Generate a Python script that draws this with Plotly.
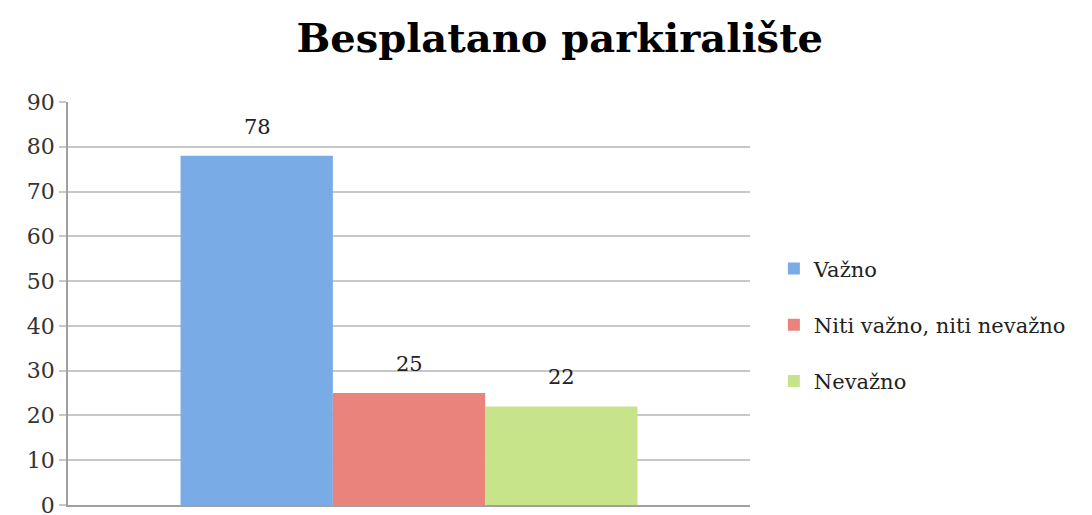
import plotly.graph_objects as go

# data
category = ["Besplatano parkiralište"]
series_names = ["Važno", "Niti važno, niti nevažno", "Nevažno"]
series_values = [78, 25, 22]
series_colors = ["#79abe6", "#e9837c", "#c8e48a"]
y_ticks = [0, 10, 20, 30, 40, 50, 60, 70, 80, 90]

serif = "DejaVu Serif"
bar_px = 152  # approx pixel width of one bar, used to place value labels

fig = go.Figure()
for i, (name, val, col) in enumerate(zip(series_names, series_values, series_colors)):
    fig.add_trace(go.Bar(
        x=category, y=[val], name=name,
        marker=dict(color=col, line=dict(width=0)),
        legendgroup=str(i),
    ))
    # value label above each bar
    fig.add_annotation(x=category[0], y=val, xref="x", yref="y",
                       text=str(val), showarrow=False,
                       xshift=(i - 1) * bar_px, yshift=29,
                       font=dict(family=serif, size=21, color="#222"))

# page body has an 8px margin, so the figure is a bit smaller than the window
fig.update_layout(
    width=1084, height=507,
    paper_bgcolor="white", plot_bgcolor="white",
    margin=dict(l=60, r=342, t=94, b=10, autoexpand=False),
    barmode="group", bargap=0.33, bargroupgap=0,
    title=dict(text="<b>Besplatano parkiralište</b>", x=0.509, xanchor="center",
               y=0.941, yanchor="middle",
               font=dict(family=serif, size=40, color="black")),
    legend=dict(x=1.035, y=0.447, xanchor="left", yanchor="middle",
                font=dict(family=serif, size=21, color="#222"),
                tracegroupgap=26, itemwidth=30),
    showlegend=True,
)

fig.update_yaxes(range=[0, 90], tickvals=y_ticks, showgrid=True,
                 gridcolor="#c8c8c8", gridwidth=2,
                 ticks="outside", ticklen=7, tickcolor="#c8c8c8", tickwidth=2,
                 showline=True, linecolor="#a0a0a0", linewidth=1.5,
                 tickfont=dict(family=serif, size=22, color="#333"),
                 ticklabeloverflow="allow",
                 zeroline=False, automargin=False)
fig.update_xaxes(type="category", showticklabels=False, showline=True,
                 linecolor="#a0a0a0", linewidth=2, showgrid=False,
                 automargin=False)

fig.write_html("out.html")
